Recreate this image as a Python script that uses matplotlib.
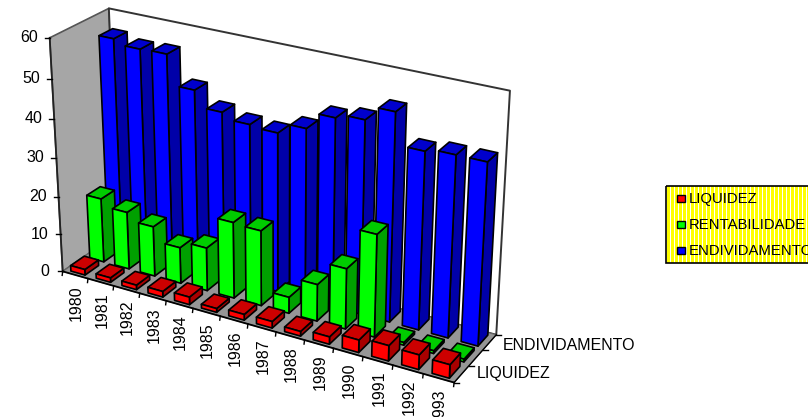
import numpy as np
import matplotlib
matplotlib.use("Agg")
import matplotlib.pyplot as plt
from matplotlib.patches import Polygon, Rectangle

plt.rcParams['font.family'] = ['Liberation Sans', 'DejaVu Sans']

years = ['1980','1981','1982','1983','1984','1985','1986','1987','1988','1989','1990','1991','1992','1993']
liquidez = [1.5,1.2,1.2,1.5,2.0,1.0,1.5,1.7,1.2,1.9,3.2,3.9,3.7,3.4]
rentabilidade = [17,15.2,13.2,9.5,11.3,19.8,19.5,4.2,9.5,15.5,26,0.7,0.7,0.7]
endividamento = [55.5,54.3,54.5,47,43,41.5,41,43.7,47.9,49,52.5,44.7,45.5,45.5]
series_names = ['LIQUIDEZ','RENTABILIDADE','ENDIVIDAMENTO']
series_values = [liquidez, rentabilidade, endividamento]
value_ticks = [0,10,20,30,40,50,60]
face_colors = [('#FF0000','#CC0000','#A80000'),('#00FF00','#00CC00','#00A000'),('#0000FF','#0000CC','#0000A8')]

# camera calibration: (category, value, depth) -> pixel
cal_world = [(0,0,0),(0,10,0),(0,20,0),(0,30,0),(0,40,0),(0,50,0),(0,60,0),
             (7,0,0),(14,0,0),(14,0,3),(0,60,3),(14,60,3),(7,60,3)]
cal_px = [(63,270),(61,233),(59,196),(57,157),(54,118),(52,78),(50,38),
          (247,331),(453,381),(497,333),(106.7,10),(510,90),(300,48)]
A=[];b=[]
for (X,Y,Z),(u,v) in zip(cal_world,cal_px):
    A.append([X,Y,Z,1,0,0,0,0,-u*X,-u*Y,-u*Z]); b.append(u)
    A.append([0,0,0,0,X,Y,Z,1,-v*X,-v*Y,-v*Z]); b.append(v)
p=np.linalg.lstsq(np.array(A,float),np.array(b,float),rcond=None)[0]
P=np.append(p,1).reshape(3,4)
def proj(X,Y,Z):
    h=P@np.array([X,Y,Z,1.0])
    return (h[0]/h[2],h[1]/h[2])

fig=plt.figure(figsize=(8.08,4.17),dpi=100)
ax=fig.add_axes([0,0,1,1]); ax.set_xlim(0,808); ax.set_ylim(417,0); ax.axis('off')
n=len(years)
top=value_ticks[-1]
AXFS=11.5

def poly(pts,fc,ec='black',lw=1.2,z=2):
    ax.add_patch(Polygon(pts,closed=True,facecolor=fc,edgecolor=ec,linewidth=lw,joinstyle='round',zorder=z))

# walls and floor
poly([proj(0,0,0),proj(0,top,0),proj(0,top,3),proj(0,0,3)],'#A6A6A6',ec='#555555',lw=1.2)
poly([proj(0,0,3),proj(0,top,3),proj(14,top,3),proj(14,0,3)],'white',ec='#333333',lw=1.4)
poly([proj(0,0,0),proj(14,0,0),proj(14,0,3),proj(0,0,3)],'#969696',ec='#666666',lw=0.8)

# bars, back series first
w0,w1=0.22,0.78
for d in [2,1,0]:
    vals=series_values[d]
    cf,ct,cs=face_colors[d]
    z0,z1=d+0.14,d+0.86
    for i,v in enumerate(vals):
        x0=i+w0; x1=i+w1
        poly([proj(x1,0,z0),proj(x1,v,z0),proj(x1,v,z1),proj(x1,0,z1)],cs)
        poly([proj(x0,v,z0),proj(x1,v,z0),proj(x1,v,z1),proj(x0,v,z1)],ct)
        poly([proj(x0,0,z0),proj(x1,0,z0),proj(x1,v,z0),proj(x0,v,z0)],cf)

# value axis
ax.plot(*zip(proj(0,0,0),proj(0,top,0)),color='#222222',lw=1.3,zorder=3)
for t in value_ticks:
    x,y=proj(0,t,0)
    ax.plot([x-5,x],[y,y],color='black',lw=1,zorder=3)
    ax.text(x-12 if t else x-13,y,str(t),ha='right',va='center',fontsize=AXFS,color='black')
# category axis
ax.plot(*zip(proj(0,0,0),proj(14,0,0)),color='black',lw=1.3,zorder=3)
for i in range(n+1):
    x,y=proj(i,0,0)
    ax.plot([x,x-0.5],[y,y+4],color='black',lw=1,zorder=3)
for i,l in enumerate(years):
    x,y=proj(i+0.5,0,0)
    ax.text(x+1,y+10,l,rotation=90,ha='center',va='top',fontsize=AXFS,color='black')
# depth axis
ax.plot(*zip(proj(14,0,0),proj(14,0,3)),color='black',lw=1.0,zorder=3)
for d in range(4):
    x,y=proj(14,0,d)
    ax.plot([x,x+5],[y,y],color='black',lw=1,zorder=3)
for d,name,dx,dy in [(0,series_names[0],15,-1),(2,series_names[2],13,3)]:
    x,y=proj(14,0,d+0.5)
    ax.text(x+dx,y+dy,name,ha='left',va='center',fontsize=AXFS,color='black')

# legend
ax.add_patch(Rectangle((666,186),160,77,facecolor='white',edgecolor='none',zorder=4))
for sx in np.arange(667,809,4.0):
    ax.add_patch(Rectangle((sx,186),2.5,77,facecolor='#FFFF00',edgecolor='none',zorder=4))
ax.add_patch(Rectangle((666,186),160,77,facecolor='none',edgecolor='black',lw=1.2,zorder=5))
for name,cols,yy in zip(series_names,face_colors,[198.5,224.5,250.5]):
    ax.add_patch(Rectangle((677,yy-4),7.5,7.5,facecolor=cols[0],edgecolor='black',lw=1,zorder=5))
    ax.text(689,yy,name,ha='left',va='center',fontsize=10.7,color='black',zorder=5)

fig.savefig('out.png',dpi=100)
